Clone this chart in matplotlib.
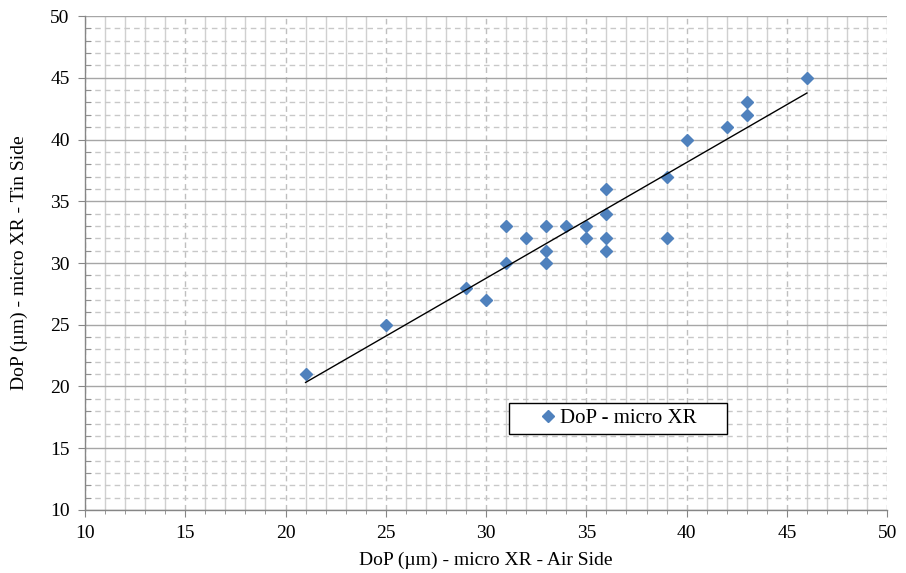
import numpy as np
import matplotlib.pyplot as plt
from matplotlib.patches import Rectangle
from matplotlib.ticker import MultipleLocator

# DoP measurements (um), air side vs tin side
air_side = [21, 25, 29, 30, 31, 31, 32, 33, 33, 33, 34, 35, 35,
            36, 36, 36, 36, 39, 39, 40, 42, 43, 43, 46]
tin_side = [21, 25, 28, 27, 33, 30, 32, 33, 31, 30, 33, 33, 32,
            36, 34, 32, 31, 37, 32, 40, 41, 43, 42, 45]

series_label = 'DoP - micro XR'
x_label = 'DoP (µm) - micro XR - Air Side'
y_label = 'DoP (µm) - micro XR - Tin Side'

plt.rcParams['font.family'] = ['Liberation Serif', 'DejaVu Serif']

fig = plt.figure(figsize=(9.06, 5.73), dpi=100)
ax = fig.add_axes([0.0938, 0.110, 0.8854, 0.862])

x = np.array(air_side, dtype=float)
y = np.array(tin_side, dtype=float)

ax.plot(x, y, linestyle='none', marker='D', markersize=6,
        color='#4F81BD', label=series_label, zorder=3)

# linear trendline over the data range
slope, intercept = np.polyfit(x, y, 1)
xt = np.array([x.min(), x.max()])
ax.plot(xt, slope * xt + intercept, color='black', linewidth=1, zorder=4)

ax.set_xlim(10, 50)
ax.set_ylim(10, 50)
ax.xaxis.set_major_locator(MultipleLocator(5))
ax.xaxis.set_minor_locator(MultipleLocator(1))
ax.yaxis.set_major_locator(MultipleLocator(5))
ax.yaxis.set_minor_locator(MultipleLocator(1))

# Excel-style grid: x major dashed, x minor solid; y major solid, y minor dashed
ax.grid(which='major', axis='x', color='#BFBFBF', linestyle=(0, (4, 3)), linewidth=1)
ax.grid(which='minor', axis='x', color='#D0D0D0', linestyle='-', linewidth=1)
ax.grid(which='major', axis='y', color='#A6A6A6', linestyle='-', linewidth=1)
ax.grid(which='minor', axis='y', color='#C8C8C8', linestyle=(0, (4, 3)), linewidth=1)
ax.set_axisbelow(True)

for s in ['top', 'right']:
    ax.spines[s].set_visible(False)
for s in ['left', 'bottom']:
    ax.spines[s].set_color('#868686')
    ax.spines[s].set_linewidth(1)

ax.tick_params(axis='both', which='major', direction='out', length=5,
               color='#868686', labelsize=14)
ax.tick_params(axis='x', which='major', pad=6)
ax.tick_params(axis='y', which='major', pad=6)
ax.tick_params(axis='y', which='minor', direction='in', length=4, color='#868686')
ax.tick_params(axis='x', which='minor', direction='out', length=3, color='#868686')

ax.set_xlabel(x_label, fontsize=14, labelpad=7)
ax.set_ylabel(y_label, fontsize=14, labelpad=16)

# legend box drawn by hand so it can be wider than its content
ax.add_patch(Rectangle((0.529, 0.154), 0.271, 0.0626, transform=ax.transAxes,
                       facecolor='white', edgecolor='black', linewidth=1,
                       zorder=6))
leg = ax.legend(loc='center left', bbox_to_anchor=(0.571, 0.185), fontsize=15,
                frameon=False, handlelength=0.5, handletextpad=0.3,
                borderpad=0, borderaxespad=0)
leg.set_zorder(7)

fig.savefig('out.png', dpi=100)
